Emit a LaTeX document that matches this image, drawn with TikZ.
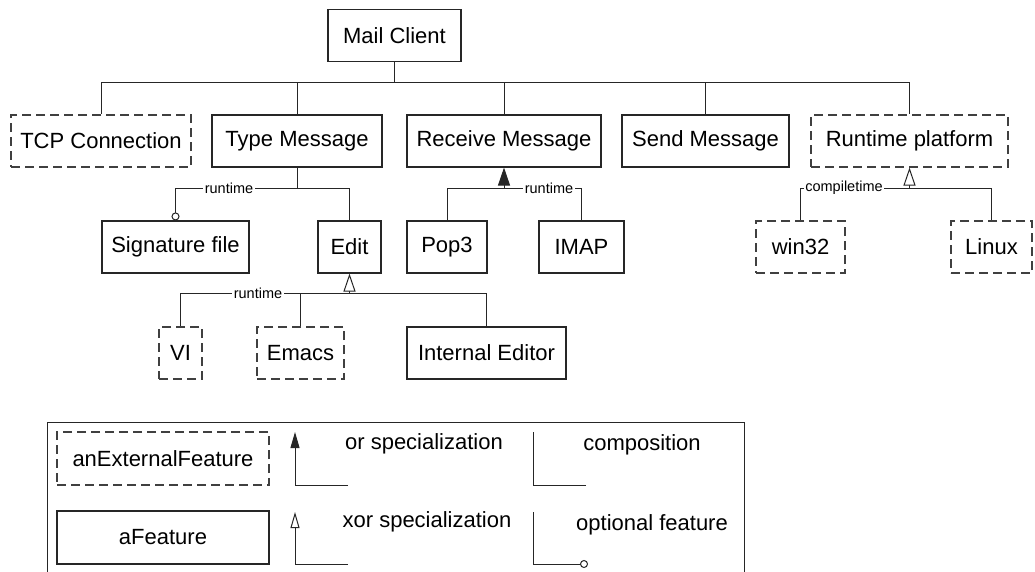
\documentclass[tikz,border=0pt]{standalone}
\usepackage{fontspec}
\setmainfont{Liberation Sans}
\usepackage{tikz}
\usetikzlibrary{arrows.meta,positioning}
\tikzset{
  feat/.style={rectangle, draw=black!85, line width=1.1pt, minimum height=52pt, inner sep=0pt, font=\fontsize{22}{26}\selectfont},
  extfeat/.style={feat, draw=black!75, dash pattern=on 9pt off 5pt},
  lbl/.style={fill=white, inner sep=1.5pt, font=\fontsize{14.5}{17}\selectfont},
  legtxt/.style={inner sep=0pt, font=\fontsize{22}{26}\selectfont},
  conn/.style={draw=black!85, line width=1pt},
  orend/.style={conn, -{Triangle[length=18pt,width=12pt]}},
  xorend/.style={conn, -{Triangle[fill=white,length=18pt,width=12pt]}},
  optend/.style={conn, -{Circle[fill=white,length=8pt]}},
  legor/.style={conn, -{Triangle[length=16pt,width=9pt]}},
  legxor/.style={conn, -{Triangle[fill=white,length=16pt,width=9pt]}}
}
\begin{document}
\begin{tikzpicture}[x=1pt,y=-1pt]
	\clip (0,0) rectangle (1035,571);
	\node[feat, minimum width=133pt] (mail) at (394.5,35.5) {Mail Client};
	\node[extfeat, minimum width=180pt] (tcp) at (101,141) {TCP Connection};
	\node[feat, minimum width=170pt] (type) at (297,141) {Type Message};
	\node[feat, minimum width=194pt] (recv) at (504,141) {Receive Message};
	\node[feat, minimum width=167pt] (send) at (705.5,141) {Send Message};
	\node[extfeat, minimum width=197pt] (rtp) at (909.5,141) {Runtime platform};
	\node[feat, minimum width=147pt] (sig) at (175.5,247) {Signature file};
	\node[feat, minimum width=63pt] (edit) at (349.5,247) {Edit};
	\node[feat, minimum width=80pt] (pop) at (447,247) {Pop3};
	\node[feat, minimum width=85pt] (imap) at (581.5,247) {IMAP};
	\node[extfeat, minimum width=89pt] (win) at (800.5,247) {win32};
	\node[extfeat, minimum width=81pt] (linux) at (991.5,247) {Linux};
	\node[extfeat, minimum width=43pt] (vi) at (180.5,353) {VI};
	\node[extfeat, minimum width=87pt] (emacs) at (300.5,353) {Emacs};
	\node[feat, minimum width=159pt] (intedit) at (486.5,353) {Internal Editor};

	\coordinate (mailbus) at (394.5,82);
	\draw[conn] (mail.south) -- (mailbus);
	\foreach \n in {tcp,type,recv,send,rtp}
		\draw[conn] (mailbus) -| (\n.north);

	\coordinate (typebus) at (297,188);
	\draw[conn] (type.south) -- (typebus);
	\draw[conn] (typebus) -| (edit.north);
	\draw[optend] (typebus) -| (sig.north);
	\node[lbl] (rt1) at (229,188) {runtime};

	\coordinate (recvbus) at (504,188);
	\draw[orend] (recvbus) -- (recv.south);
	\draw[conn] (recvbus) -| (pop.north);
	\draw[conn] (recvbus) -| (imap.north);
	\node[lbl] (rt2) at (549,188) {runtime};

	\coordinate (rtpbus) at (909.5,188);
	\draw[xorend] (rtpbus) -- (rtp.south);
	\draw[conn] (rtpbus) -| (win.north);
	\draw[conn] (rtpbus) -| (linux.north);
	\node[lbl] (ct) at (844,188) {compiletime};

	\coordinate (editbus) at (349.5,293);
	\draw[xorend] (editbus) -- (edit.south);
	\foreach \n in {vi,emacs,intedit}
		\draw[conn] (editbus) -| (\n.north);
	\node[lbl] (rt3) at (258,293) {runtime};

	\draw[conn] (47,422) rectangle (744,640);
	\node[extfeat, minimum width=212pt, minimum height=53pt] (legext) at (163,458.5) {anExternalFeature};
	\node[feat, minimum width=212pt, minimum height=53pt] (legfeat) at (163,537.5) {aFeature};
	\coordinate (orA) at (348,485);
	\coordinate (orB) at (295,432);
	\draw[legor] (orA) -| (orB);
	\node[legtxt] (ortxt) at (424,444) {or specialization};
	\coordinate (xorA) at (348,564);
	\coordinate (xorB) at (295,512);
	\draw[legxor] (xorA) -| (xorB);
	\node[legtxt] (xortxt) at (427,522) {xor specialization};
	\coordinate (compA) at (586,485);
	\coordinate (compB) at (533,432);
	\draw[conn] (compA) -| (compB);
	\node[legtxt] (comptxt) at (642,445) {composition};
	\coordinate (optA) at (533,512);
	\coordinate (optB) at (588,564);
	\draw[optend] (optA) |- (optB);
	\node[legtxt] (opttxt) at (652,525) {optional feature};
\end{tikzpicture}
\end{document}
